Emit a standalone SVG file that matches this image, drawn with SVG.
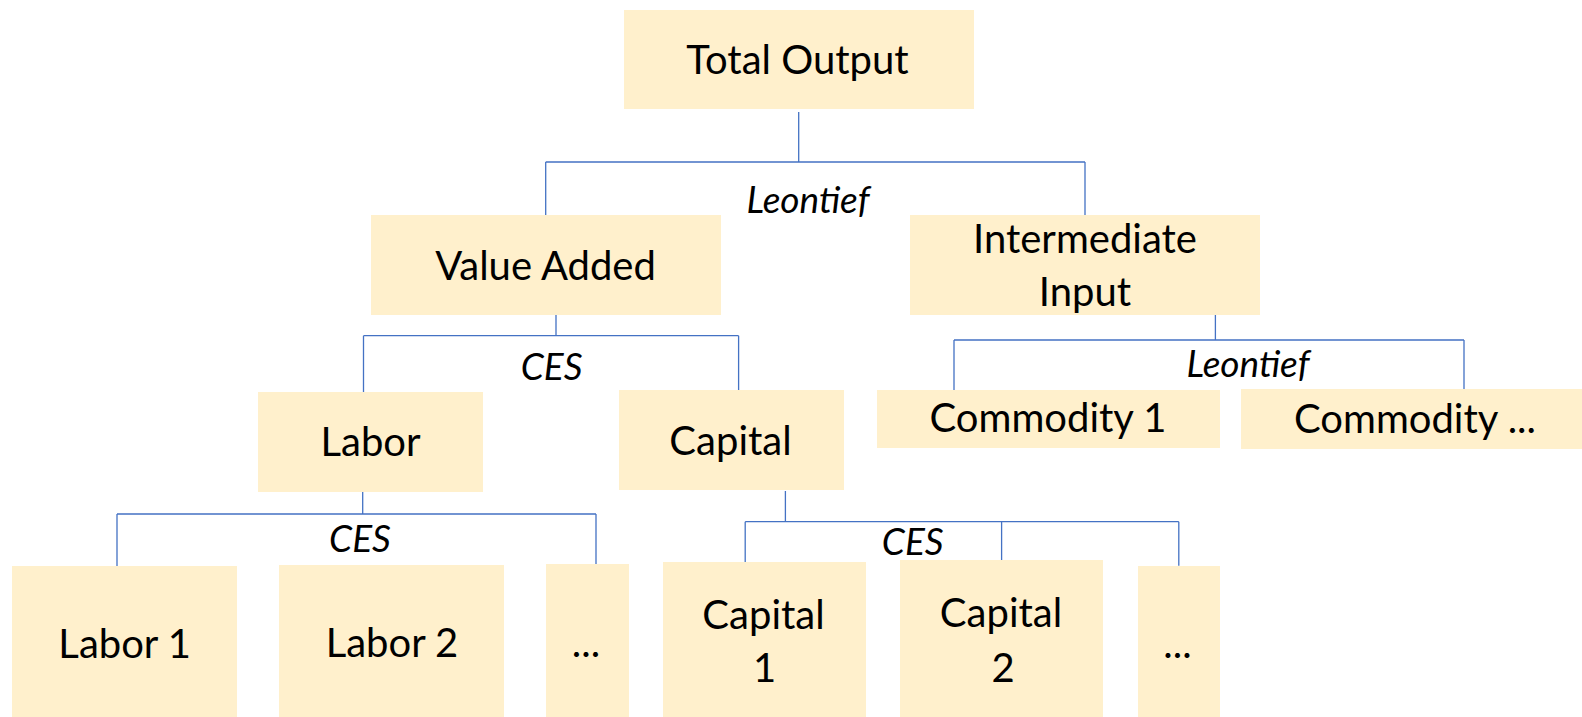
<svg xmlns="http://www.w3.org/2000/svg" width="1582" height="717" viewBox="0 0 1582 717">
  <style>
    .box { fill: #FFF0CC; }
    .lbl { font-family: Lato, "Liberation Sans", sans-serif; font-size: 40px; fill: #000; text-anchor: middle; }
    .fn { font-family: Lato, "Liberation Sans", sans-serif; font-size: 37px; font-style: italic; fill: #000; text-anchor: middle; }
    .wire { stroke: #4472C4; stroke-width: 1.3; fill: none; }
  </style>

  <!-- connectors -->
  <g id="connectors" class="wire">
    <!-- Total Output -> Value Added / Intermediate Input -->
    <path d="M798.7 112 V162 M545.7 162 H1085 M545.7 162 V215 M1085 162 V215"/>
    <!-- Value Added -> Labor / Capital -->
    <path d="M556 307 V335.7 M363.5 335.7 H738.6 M363.5 335.7 V392 M738.6 335.7 V391"/>
    <!-- Intermediate Input -> commodities -->
    <path d="M1215.4 313 V340 M954 340 H1464 M954 340 V391.5 M1464 340 V392"/>
    <!-- Labor -> labor types -->
    <path d="M362.7 486 V514 M117 514 H596 M117 514 V569 M596 514 V570"/>
    <!-- Capital -> capital types -->
    <path d="M785.4 491 V521.7 M745.2 521.7 H1178.8 M745.2 521.7 V569 M1001.6 521.7 V560 M1178.8 521.7 V565.7"/>
  </g>

  <!-- elasticity labels -->
  <g id="elasticities">
    <text class="fn" x="808" y="213">Leontief</text>
    <text class="fn" x="551.6" y="380">CES</text>
    <text class="fn" x="1248" y="377">Leontief</text>
    <text class="fn" x="360" y="552">CES</text>
    <text class="fn" x="912.7" y="555">CES</text>
  </g>

  <g id="total-output">
    <rect class="box" x="624" y="10" width="350" height="99"/>
    <text class="lbl" x="797.5" y="74">Total Output</text>
  </g>

  <g id="value-added">
    <rect class="box" x="371" y="215" width="350" height="100"/>
    <text class="lbl" x="545.5" y="280">Value Added</text>
  </g>

  <g id="intermediate-input">
    <rect class="box" x="910" y="215" width="350" height="100"/>
    <text class="lbl" x="1085" y="253">Intermediate</text>
    <text class="lbl" x="1085" y="306">Input</text>
  </g>

  <g id="labor">
    <rect class="box" x="258" y="392" width="225" height="100"/>
    <text class="lbl" x="370.5" y="456">Labor</text>
  </g>

  <g id="capital">
    <rect class="box" x="619" y="390" width="225" height="100"/>
    <text class="lbl" x="730.5" y="455">Capital</text>
  </g>

  <g id="commodity-1">
    <rect class="box" x="877" y="390" width="343" height="58"/>
    <text class="lbl" x="1048" y="432">Commodity 1</text>
  </g>

  <g id="commodity-n">
    <rect class="box" x="1241" y="389" width="341" height="60"/>
    <text class="lbl" x="1415" y="433">Commodity ...</text>
  </g>

  <g id="labor-1">
    <rect class="box" x="12" y="566" width="225" height="151"/>
    <text class="lbl" x="124.7" y="658">Labor 1</text>
  </g>

  <g id="labor-2">
    <rect class="box" x="279" y="565" width="225" height="152"/>
    <text class="lbl" x="392" y="657">Labor 2</text>
  </g>

  <g id="labor-n">
    <rect class="box" x="546" y="564" width="83" height="153"/>
    <text class="lbl" x="586" y="657">...</text>
  </g>

  <g id="capital-1">
    <rect class="box" x="663" y="562" width="203" height="155"/>
    <text class="lbl" x="763.5" y="629">Capital</text>
    <text class="lbl" x="764.5" y="682">1</text>
  </g>

  <g id="capital-2">
    <rect class="box" x="900" y="560" width="203" height="157"/>
    <text class="lbl" x="1001" y="627">Capital</text>
    <text class="lbl" x="1003" y="682">2</text>
  </g>

  <g id="capital-n">
    <rect class="box" x="1138" y="566" width="82" height="151"/>
    <text class="lbl" x="1177.5" y="658">...</text>
  </g>
</svg>
